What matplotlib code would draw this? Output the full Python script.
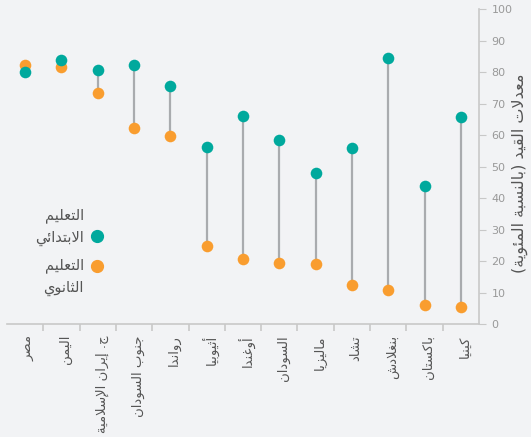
import matplotlib
matplotlib.use('Agg')
import matplotlib.pyplot as plt
from matplotlib.lines import Line2D
from matplotlib.transforms import ScaledTranslation
import numpy as np

# data
countries = ["مصر", "اليمن", "ج. إيران الإسلامية", "جنوب السودان", "رواندا", "أثيوبيا",
             "أوغندا", "السودان", "ماليزيا", "تشاد", "بنغلادش", "باكستان", "كينيا"]
primary = [80.0, 83.9, 80.8, 82.4, 75.6, 56.3, 66.1, 58.5, 48.1, 55.8, 84.5, 43.9, 65.9]
secondary = [82.2, 81.6, 73.3, 62.3, 59.6, 24.8, 20.6, 19.5, 19.1, 12.3, 10.7, 6.0, 5.5]
y_ticks = [0, 10, 20, 30, 40, 50, 60, 70, 80, 90, 100]
primary_label = "التعليم\nالابتدائي"
secondary_label = "التعليم\nالثانوي"
y_title = "معدلات القيد (بالنسبة المئوية)"

TEAL = '#00a99d'
ORANGE = '#f99d2f'
BG = '#f2f3f5'
TEXT = '#555555'
AXIS = '#c8c8c8'

# matplotlib does no arabic shaping, so map letters to presentation forms
# and lay them out right-to-left by hand
ARABIC = "ءآأؤإئابةتثجحخدذرزسشصضطظعغفقكلمنهوىي"
COUNTS = [1, 2, 2, 2, 2, 4, 2, 4, 2, 4, 4, 4, 4, 4, 2, 2, 2, 2,
          4, 4, 4, 4, 4, 4, 4, 4, 4, 4, 4, 4, 4, 4, 4, 2, 2, 4]
FORMS = {}
code = 0xFE80
for ch, n in zip(ARABIC, COUNTS):
    FORMS[ch] = (code, n)
    code += n
LAM_ALEF = {'آ': 0xFEF5, 'أ': 0xFEF7, 'إ': 0xFEF9, 'ا': 0xFEFB}


def shape_line(text):
    out = []
    i = 0
    while i < len(text):
        ch = text[i]
        if ch not in FORMS:
            out.append(ch)
            i += 1
            continue
        prev = text[i - 1] if i > 0 else ''
        joins_prev = prev in FORMS and FORMS[prev][1] == 4 and ch != 'ء'
        if ch == 'ل' and i + 1 < len(text) and text[i + 1] in LAM_ALEF:
            out.append(chr(LAM_ALEF[text[i + 1]] + int(joins_prev)))
            i += 2
            continue
        base, n = FORMS[ch]
        nxt = text[i + 1] if i + 1 < len(text) else ''
        joins_next = n == 4 and nxt in FORMS and nxt != 'ء'
        if n == 1:
            form = 0
        elif joins_prev and joins_next:
            form = 3
        elif joins_prev:
            form = 1
        elif joins_next:
            form = 2
        else:
            form = 0
        out.append(chr(base + form))
        i += 1
    s = ''.join(reversed(out))
    return s.translate(str.maketrans('()', ')('))


def ar(text):
    return '\n'.join(shape_line(line) for line in text.split('\n'))


plt.rcParams['font.family'] = ['DejaVu Sans']

W, H = 531, 437
fig = plt.figure(figsize=(W / 100, H / 100), dpi=100, facecolor=BG)
ax = fig.add_axes([7 / W, 1 - 324 / H, 472 / W, 314.7 / H])
ax.set_facecolor(BG)

x = np.arange(len(countries))
ax.vlines(x, secondary, primary, color='#a9abae', linewidth=1.6, zorder=1)
ax.scatter(x, secondary, s=70, color=ORANGE, zorder=2, linewidths=0)
ax.scatter(x, primary, s=70, color=TEAL, zorder=3, linewidths=0)

ax.set_xlim(-0.5, len(countries) - 0.5)
ax.set_ylim(0, 100)

for side in ['left', 'top']:
    ax.spines[side].set_visible(False)
for side in ['right', 'bottom']:
    ax.spines[side].set_color(AXIS)
    ax.spines[side].set_linewidth(1.2)

ax.yaxis.tick_right()
ax.yaxis.set_label_position('right')
ax.set_yticks(y_ticks)
ax.tick_params(axis='y', length=5, color=AXIS, labelcolor='#999999', labelsize=8, pad=4)
ax.set_ylabel(ar(y_title), fontsize=11.5, color=TEXT, rotation=90)
ax.yaxis.set_label_coords((512 - 7) / 472, 0.48)

ax.set_xticks(x)
ax.set_xticklabels([ar(c) for c in countries], rotation=90, fontsize=9.5, color=TEXT,
                   va='top', ha='center')
ax.tick_params(axis='x', which='major', length=0, pad=8)
# nudge the rotated labels a touch right, as in the reference
nudge = ScaledTranslation(3 / 72, 0, fig.dpi_scale_trans)
for lbl in ax.get_xticklabels():
    lbl.set_transform(lbl.get_transform() + nudge)
ax.set_xticks(x[:-1] + 0.5, minor=True)
ax.tick_params(axis='x', which='minor', length=5, color=AXIS, width=1.2)

# legend, drawn by hand: marker sits to the right of the text
legend_items = [(primary_label, TEAL, 236, 227), (secondary_label, ORANGE, 266, 277)]
for label, colour, dot_y, text_y in legend_items:
    fig.add_artist(Line2D([97 / W], [1 - dot_y / H], transform=fig.transFigure,
                          marker='o', markersize=8.5, color=colour, linestyle='none'))
    fig.text(84 / W, 1 - text_y / H, ar(label), ha='right', va='center',
             multialignment='right', linespacing=1.5, fontsize=10.5, color=TEXT)

fig.savefig('out.png', dpi=100, facecolor=BG)
